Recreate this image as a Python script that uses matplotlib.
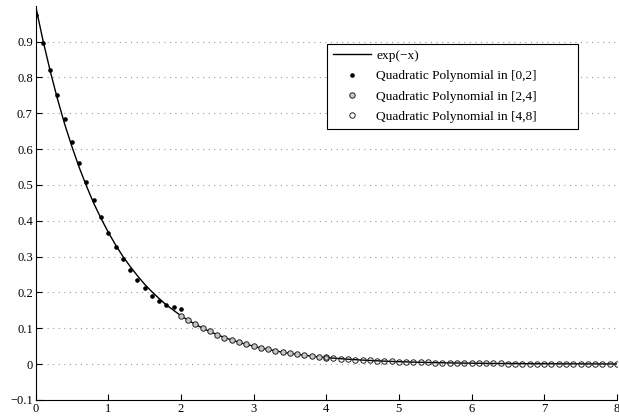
import numpy as np
import matplotlib.pyplot as plt

plt.rcParams['font.family'] = ['Liberation Serif', 'DejaVu Serif']

# exp(-x) curve, sampled every 0.1 on [0, 8]
curve_x = np.round(np.arange(0, 8.01, 0.1), 1)
curve_y = [1.000, 0.905, 0.819, 0.741, 0.670, 0.607, 0.549, 0.497, 0.449, 0.407,
           0.368, 0.333, 0.301, 0.273, 0.247, 0.223, 0.202, 0.183, 0.165, 0.150,
           0.135, 0.122, 0.111, 0.100, 0.091, 0.082, 0.074, 0.067, 0.061, 0.055,
           0.050, 0.045, 0.041, 0.037, 0.033, 0.030, 0.027, 0.025, 0.022, 0.020,
           0.018, 0.0166, 0.0150, 0.0136, 0.0123, 0.0111, 0.0101, 0.0091, 0.0082, 0.0074,
           0.0067, 0.0061, 0.0055, 0.0050, 0.0045, 0.0041, 0.0037, 0.0033, 0.0030, 0.0027,
           0.0025, 0.0022, 0.0020, 0.0018, 0.0017, 0.0015, 0.0014, 0.0012, 0.0011, 0.0010,
           0.0009, 0.0008, 0.0007, 0.0007, 0.0006, 0.0006, 0.0005, 0.0005, 0.0004, 0.0004,
           0.0003]

# quadratic fit on [0,2]
q1_x = np.round(np.arange(0, 2.01, 0.1), 1)
q1_y = [0.975, 0.897, 0.821, 0.750, 0.685, 0.621, 0.562, 0.507, 0.458, 0.410,
        0.367, 0.328, 0.293, 0.262, 0.235, 0.211, 0.191, 0.177, 0.166, 0.159,
        0.154]

# quadratic fit on [2,4]
q2_x = np.round(np.arange(2, 4.01, 0.1), 1)
q2_y = [0.133, 0.122, 0.111, 0.100, 0.091, 0.082, 0.074, 0.067, 0.061, 0.055,
        0.050, 0.045, 0.041, 0.037, 0.033, 0.030, 0.027, 0.025, 0.022, 0.020,
        0.019]

# quadratic fit on [4,8]
q3_x = np.round(np.arange(4, 8.01, 0.1), 1)
q3_y = [0.0183, 0.0166, 0.0150, 0.0136, 0.0123, 0.0111, 0.0101, 0.0091, 0.0082, 0.0074,
        0.0067, 0.0061, 0.0055, 0.0050, 0.0045, 0.0041, 0.0037, 0.0033, 0.0030, 0.0027,
        0.0025, 0.0022, 0.0020, 0.0018, 0.0017, 0.0015, 0.0014, 0.0012, 0.0011, 0.0010,
        0.0009, 0.0008, 0.0007, 0.0007, 0.0006, 0.0006, 0.0005, 0.0005, 0.0004, 0.0004,
        0.0003]

y_ticks = np.round(np.arange(-0.1, 0.91, 0.1), 1)
y_labels = ['\u22120.1', '0', '0.1', '0.2', '0.3', '0.4', '0.5', '0.6', '0.7', '0.8', '0.9']

fig = plt.figure(figsize=(6.19, 4.17), dpi=100)
ax = fig.add_axes([0.0575, 0.041, 0.939, 0.945])

ax.plot(curve_x, curve_y, color='black', linewidth=1.0, label='exp(\u2212x)', zorder=3)
ax.plot(q1_x, q1_y, linestyle='none', marker='o', markersize=2.3, color='black',
        label='Quadratic Polynomial in [0,2]', zorder=4)
ax.plot(q2_x, q2_y, linestyle='none', marker='o', markersize=3.9, markeredgewidth=0.7,
        markeredgecolor='#222222', markerfacecolor='#c8c8c8',
        label='Quadratic Polynomial in [2,4]', zorder=4)
ax.plot(q3_x, q3_y, linestyle='none', marker='o', markersize=3.9, markeredgewidth=0.7,
        markeredgecolor='#222222', markerfacecolor='none',
        label='Quadratic Polynomial in [4,8]', zorder=4)

ax.set_xlim(0, 8)
ax.set_ylim(-0.1, 1.0)
ax.set_xticks(range(9))
ax.set_yticks(y_ticks)
ax.set_yticklabels(y_labels)
ax.tick_params(direction='in', length=4, labelsize=9, width=0.8, pad=2)

for yv in y_ticks:
    ax.axhline(yv, color='#999999', linestyle=(0, (1, 4)), linewidth=0.8, zorder=1)

ax.spines['top'].set_visible(False)
ax.spines['right'].set_visible(False)
ax.spines['left'].set_linewidth(0.8)
ax.spines['bottom'].set_linewidth(0.8)

leg = ax.legend(loc='upper left', bbox_to_anchor=(0.501, 0.904, 0.432, 0.0), mode='expand',
                borderaxespad=0, fontsize=9.6, frameon=True, fancybox=False,
                edgecolor='black', framealpha=1, handlelength=2.9, borderpad=0.45,
                labelspacing=0.6, handletextpad=0.35)
leg.get_frame().set_linewidth(0.8)

fig.savefig('out.png', dpi=100)
